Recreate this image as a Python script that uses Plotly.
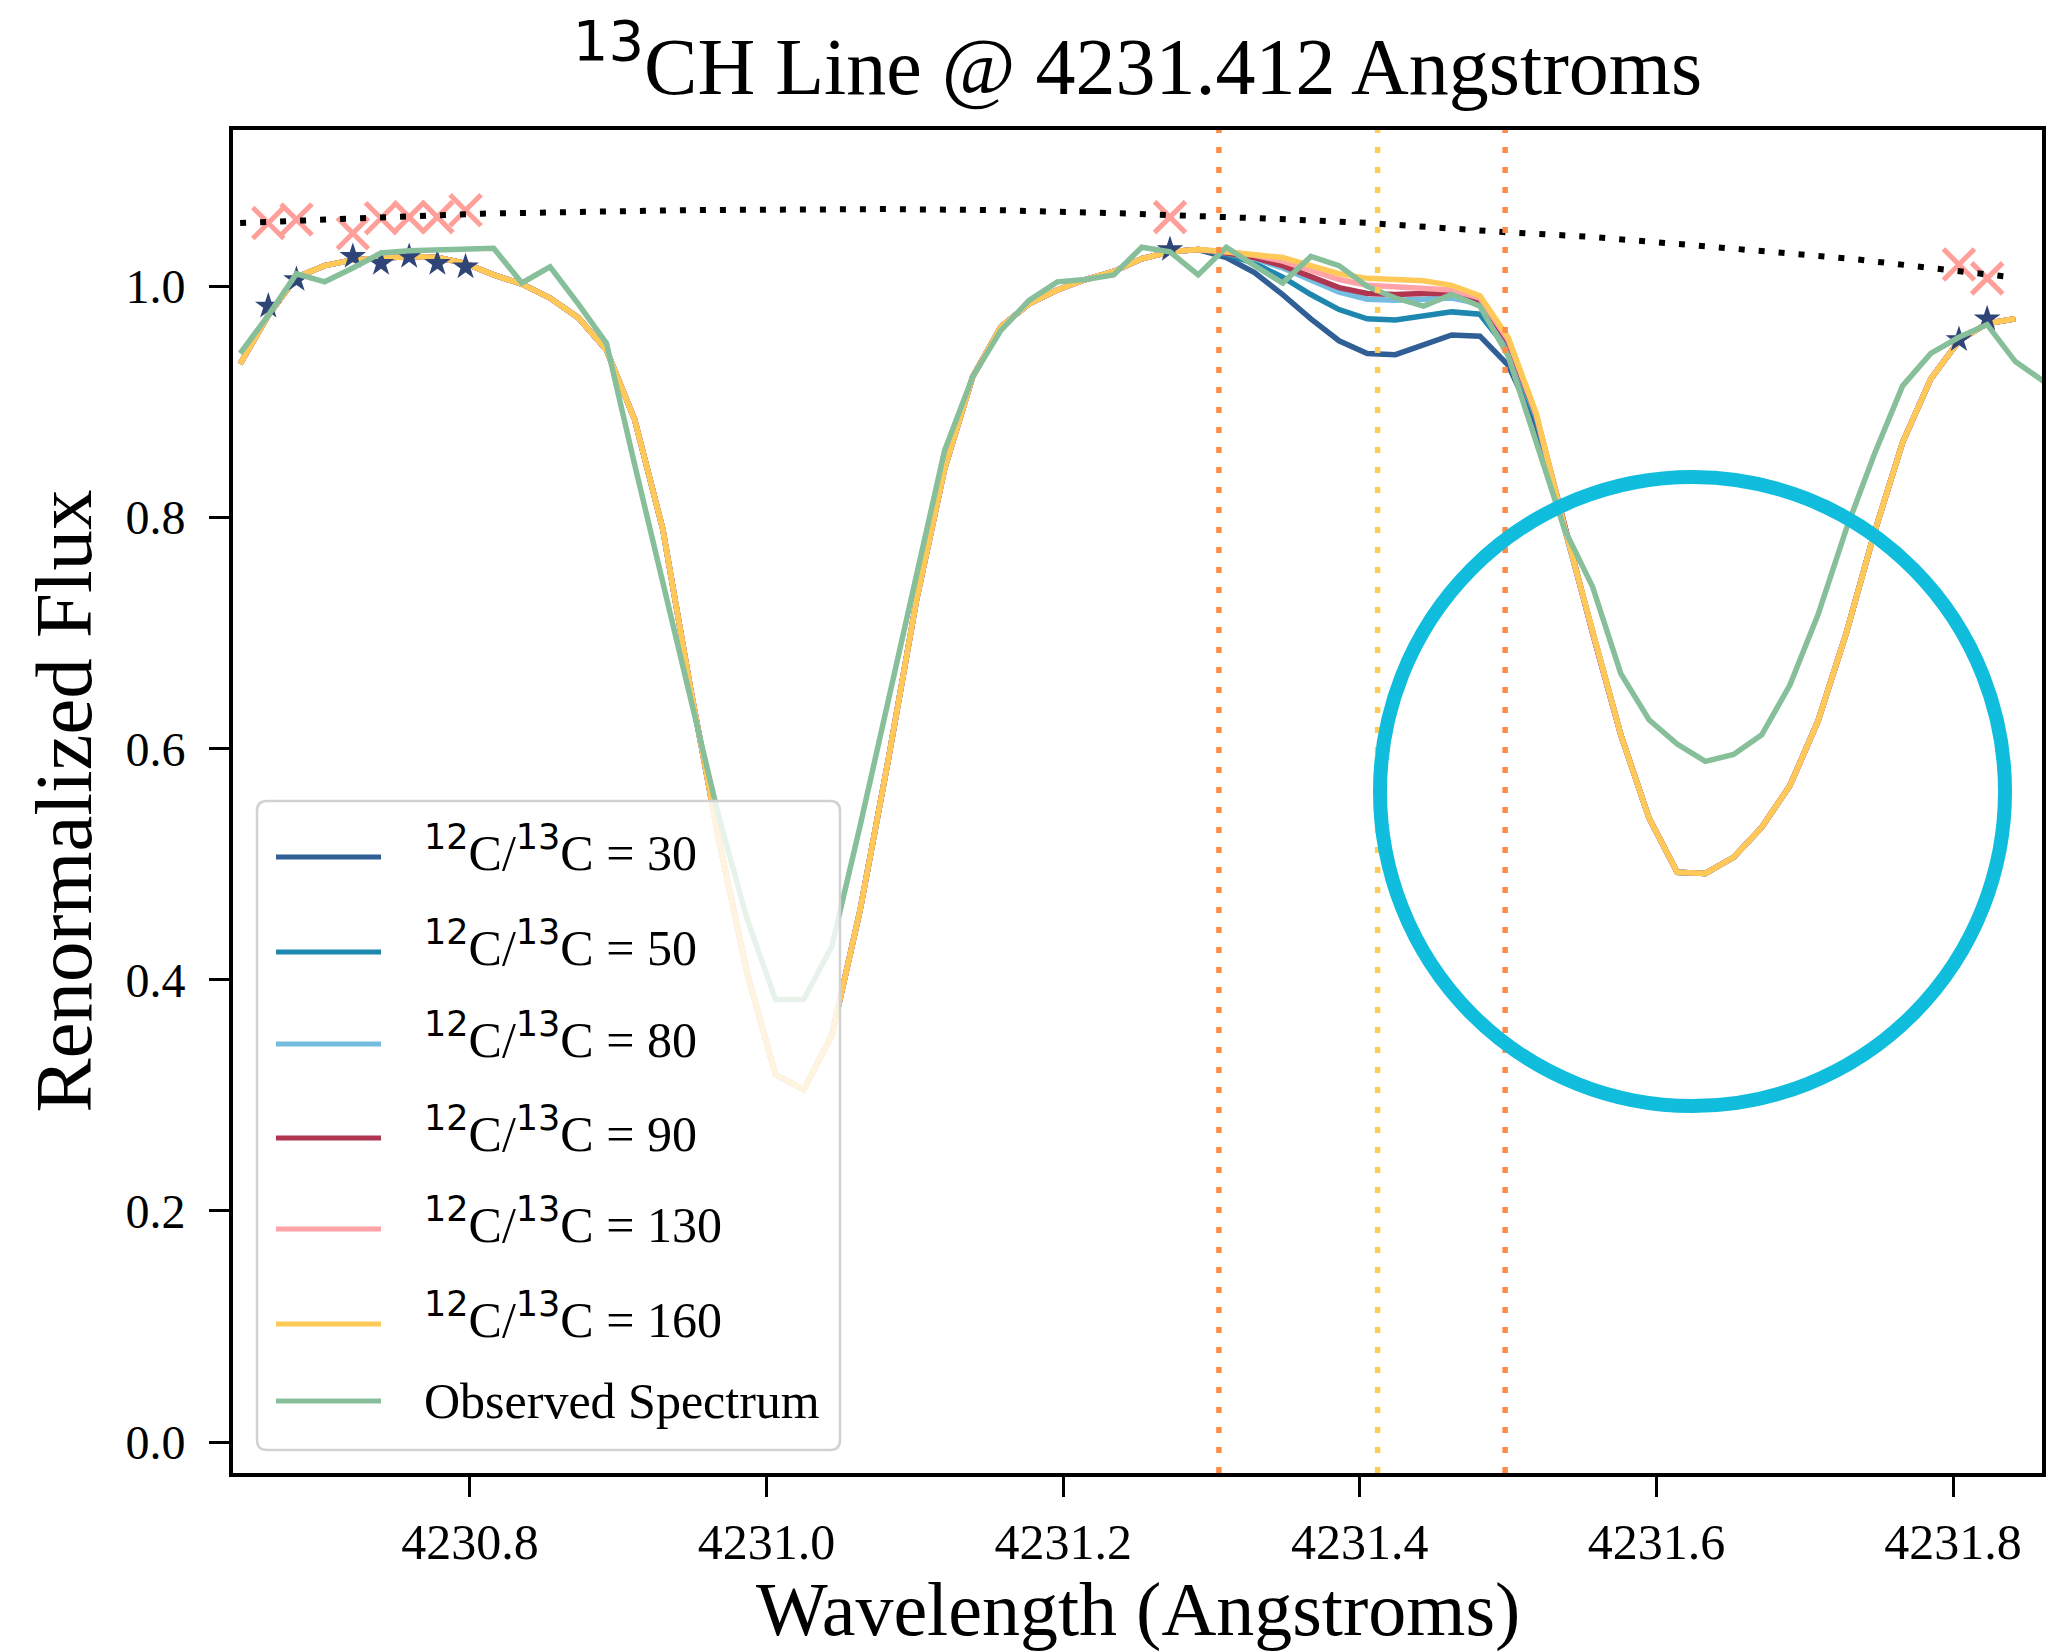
import plotly.graph_objects as go

# ---------------- data ----------------
# wavelength grid of the spectra (Angstroms)
wl = [4230.645, 4230.664, 4230.683, 4230.702, 4230.721, 4230.740, 4230.759, 4230.778,
      4230.797, 4230.816, 4230.835, 4230.854, 4230.873, 4230.892, 4230.911, 4230.930,
      4230.949, 4230.968, 4230.987, 4231.006, 4231.025, 4231.044, 4231.063, 4231.082,
      4231.101, 4231.120, 4231.139, 4231.158, 4231.177, 4231.196, 4231.215, 4231.234,
      4231.253, 4231.272, 4231.291, 4231.310, 4231.329, 4231.348, 4231.367, 4231.386,
      4231.405, 4231.424, 4231.443, 4231.462, 4231.481, 4231.500, 4231.519, 4231.538,
      4231.557, 4231.576, 4231.595, 4231.614, 4231.633, 4231.652, 4231.671, 4231.690,
      4231.709, 4231.728, 4231.747, 4231.766, 4231.785, 4231.804, 4231.823, 4231.842,
      4231.861]

observed_flux = [0.942, 0.975, 1.011, 1.004, 1.016, 1.029, 1.031, 1.032,
                 1.032, 1.033, 1.003, 1.017, 0.985, 0.951, 0.846, 0.745,
                 0.640, 0.540, 0.452, 0.383, 0.383, 0.429, 0.533, 0.642,
                 0.752, 0.858, 0.922, 0.962, 0.988, 1.004, 1.006, 1.010,
                 1.034, 1.030, 1.010, 1.034, 1.018, 1.003, 1.026, 1.018,
                 1.000, 0.990, 0.983, 0.993, 0.983, 0.940, 0.865, 0.790,
                 0.740, 0.665, 0.625, 0.604, 0.589, 0.595, 0.612, 0.655,
                 0.716, 0.790, 0.855, 0.914, 0.942, 0.956, 0.967, 0.935,
                 0.918]

# synthetic spectra: shared blue wing (4230.645-4231.291) and red part (4231.538-4231.842)
synth_blue = [0.933, 0.975, 1.008, 1.018, 1.023, 1.025, 1.026, 1.025,
              1.020, 1.010, 1.002, 0.990, 0.973, 0.945, 0.885, 0.790,
              0.650, 0.520, 0.405, 0.318, 0.305, 0.352, 0.460, 0.590,
              0.728, 0.842, 0.922, 0.965, 0.985, 0.997, 1.006, 1.013,
              1.024, 1.030, 1.032]
synth_red = [0.792, 0.700, 0.612, 0.540, 0.493, 0.492, 0.506, 0.532,
             0.568, 0.624, 0.700, 0.787, 0.865, 0.920, 0.953, 0.968, 0.972]

# 13CH-sensitive window 4231.310-4231.519, one row per isotope ratio
ratios = [30, 50, 80, 90, 130, 160]
core_flux = {
    30:  [1.025, 1.012, 0.993, 0.972, 0.953, 0.942, 0.941, 0.950, 0.958, 0.957, 0.932, 0.880],
    50:  [1.028, 1.020, 1.008, 0.993, 0.980, 0.972, 0.971, 0.974, 0.978, 0.976, 0.945, 0.885],
    80:  [1.029, 1.024, 1.016, 1.005, 0.995, 0.989, 0.988, 0.989, 0.990, 0.985, 0.950, 0.887],
    90:  [1.029, 1.025, 1.018, 1.008, 0.999, 0.994, 0.993, 0.994, 0.994, 0.988, 0.952, 0.888],
    130: [1.030, 1.027, 1.022, 1.014, 1.006, 1.001, 1.000, 0.999, 0.997, 0.990, 0.954, 0.889],
    160: [1.030, 1.028, 1.025, 1.018, 1.011, 1.007, 1.006, 1.005, 1.001, 0.992, 0.956, 0.890],
}
ratio_colors = {30: "#305f96", 50: "#1e87b0", 80: "#74bde0",
                90: "#b03550", 130: "#ffa3a8", 160: "#ffc957"}
observed_color = "#88bf9b"

# continuum points: observed values and the raised continuum markers
cont_wl = [4230.664, 4230.683, 4230.721, 4230.740, 4230.759, 4230.778, 4230.797,
           4231.272, 4231.804, 4231.823]
cont_obs = [0.983, 1.006, 1.026, 1.020, 1.026, 1.020, 1.017, 1.032, 0.954, 0.972]
cont_raised = [1.055, 1.058, 1.046, 1.059, 1.060, 1.060, 1.066, 1.060, 1.019, 1.007]

# continuum fit
fit_wl = [4230.645, 4230.716, 4230.808, 4230.942, 4231.030, 4231.081, 4231.157, 4231.247,
          4231.352, 4231.405, 4231.498, 4231.555, 4231.622, 4231.731, 4231.785, 4231.840]
fit_flux = [1.055, 1.059, 1.063, 1.066, 1.067, 1.067, 1.066, 1.063,
            1.058, 1.055, 1.047, 1.043, 1.036, 1.024, 1.016, 1.008]

# line window markers
window_lines = [(4231.305, "#ff8c45"), (4231.412, "#ffca55"), (4231.498, "#ff8c45")]

x_ticks = [4230.8, 4231.0, 4231.2, 4231.4, 4231.6, 4231.8]
x_tick_text = ["4230.8", "4231.0", "4231.2", "4231.4", "4231.6", "4231.8"]
y_ticks = [0.0, 0.2, 0.4, 0.6, 0.8, 1.0]
y_tick_text = ["0.0", "0.2", "0.4", "0.6", "0.8", "1.0"]

# ---------------- layout geometry (pixels) ----------------
W, H = 2059, 1652
ML, MR, MT, MB = 233, 17, 130, 179
PW, PH = W - ML - MR, H - MT - MB
FONT = "Liberation Serif"
LINE_W = 5.5


def px_x(p):
    return (p - ML) / PW


def px_y(p):
    return (H - MB - p) / PH


def sup(s):
    return "<sup><span style='font-family:DejaVu Sans'>" + s + "</span></sup>"


fig = go.Figure()

wl_synth = wl[:64]
for r in ratios:
    fig.add_trace(go.Scatter(
        x=wl_synth, y=synth_blue + core_flux[r] + synth_red, mode="lines",
        line=dict(color=ratio_colors[r], width=LINE_W), showlegend=False, hoverinfo="skip"))

fig.add_trace(go.Scatter(x=cont_wl, y=cont_obs, mode="markers",
                         marker=dict(symbol="star", size=20, color="#2f4577"),
                         showlegend=False))
fig.add_trace(go.Scatter(x=cont_wl, y=cont_raised, mode="markers",
                         marker=dict(symbol="x-thin", size=31,
                                     line=dict(color="#ff9f9a", width=5)),
                         showlegend=False))
fig.add_trace(go.Scatter(x=wl, y=observed_flux, mode="lines",
                         line=dict(color=observed_color, width=LINE_W), showlegend=False))
fig.add_trace(go.Scatter(x=fit_wl, y=fit_flux, mode="lines",
                         line=dict(color="black", width=6, dash="6px,14px"),
                         showlegend=False))

shapes = []
for xv, col in window_lines:
    shapes.append(dict(type="line", xref="x", yref="paper", x0=xv, x1=xv, y0=0, y1=1,
                       line=dict(color=col, width=5.5, dash="6px,14px"), layer="above"))

# highlight ring around the 4231.6 feature
shapes.append(dict(type="circle", xref="paper", yref="paper",
                   x0=px_x(1380), x1=px_x(2005), y0=px_y(1106), y1=px_y(477),
                   line=dict(color="#10bddd", width=14), layer="above"))

# legend frame with rounded corners
lx0, lx1, ly0, ly1, rad = 257, 840, 801, 1450, 10


def pt(x, y):
    return f"{px_x(x):.5f},{px_y(y):.5f}"


legend_path = (f"M{pt(lx0 + rad, ly0)} L{pt(lx1 - rad, ly0)} Q{pt(lx1, ly0)} {pt(lx1, ly0 + rad)} "
               f"L{pt(lx1, ly1 - rad)} Q{pt(lx1, ly1)} {pt(lx1 - rad, ly1)} "
               f"L{pt(lx0 + rad, ly1)} Q{pt(lx0, ly1)} {pt(lx0, ly1 - rad)} "
               f"L{pt(lx0, ly0 + rad)} Q{pt(lx0, ly0)} {pt(lx0 + rad, ly0)} Z")
shapes.append(dict(type="path", xref="paper", yref="paper", path=legend_path,
                   fillcolor="rgba(255,255,255,0.8)", line=dict(color="#d2d2d2", width=2.5),
                   layer="above"))

legend_labels = [sup("12") + "C/" + sup("13") + f"C = {r}" for r in ratios] + ["Observed Spectrum"]
legend_colors = [ratio_colors[r] for r in ratios] + [observed_color]
legend_rows = [857, 952, 1044, 1138, 1229, 1324, 1401]
legend_text_shift = [8, 8, 8, 8, 8, 8, 0]

annotations = []
for lab, col, yrow, dy in zip(legend_labels, legend_colors, legend_rows, legend_text_shift):
    shapes.append(dict(type="line", xref="paper", yref="paper",
                       x0=px_x(276), x1=px_x(381), y0=px_y(yrow), y1=px_y(yrow),
                       line=dict(color=col, width=5), layer="above"))
    annotations.append(dict(xref="paper", yref="paper", x=px_x(422), y=px_y(yrow - dy),
                            xanchor="left", yanchor="middle", text=lab, showarrow=False,
                            font=dict(family=FONT, size=50, color="black")))

# axis titles
annotations.append(dict(xref="paper", yref="paper", x=0.5, y=px_y(1610),
                        xanchor="center", yanchor="middle", showarrow=False,
                        text="Wavelength (Angstroms)",
                        font=dict(family=FONT, size=76, color="black")))
annotations.append(dict(xref="paper", yref="paper", x=px_x(63), y=0.5,
                        xanchor="center", yanchor="middle", showarrow=False, textangle=-90,
                        text="Renormalized Flux",
                        font=dict(family=FONT, size=81, color="black")))

fig.update_layout(
    width=W, height=H,
    margin=dict(l=ML, r=MR, t=MT, b=MB),
    paper_bgcolor="white", plot_bgcolor="white",
    title=dict(text=sup("13") + "CH Line @ 4231.412 Angstroms",
               x=0.5, xref="paper", xanchor="center",
               y=1 - 66 / H, yref="container", yanchor="middle",
               font=dict(family=FONT, size=80, color="black")),
    shapes=shapes, annotations=annotations, showlegend=False,
)
fig.update_xaxes(range=[4230.6402, 4231.860], tickvals=x_ticks, ticktext=x_tick_text,
                 showgrid=False, zeroline=False, showline=True, mirror=True,
                 linecolor="black", linewidth=4, ticks="outside", ticklen=20, tickwidth=3,
                 tickcolor="black", ticklabelstandoff=2,
                 tickfont=dict(family=FONT, size=50, color="black"))
fig.update_yaxes(range=[-0.0268, 1.1354], tickvals=y_ticks, ticktext=y_tick_text,
                 showgrid=False, zeroline=False, showline=True, mirror=True,
                 linecolor="black", linewidth=4, ticks="outside", ticklen=20, tickwidth=3,
                 tickcolor="black", ticklabelstandoff=14,
                 tickfont=dict(family=FONT, size=48, color="black"))

fig.write_html("out.html")
